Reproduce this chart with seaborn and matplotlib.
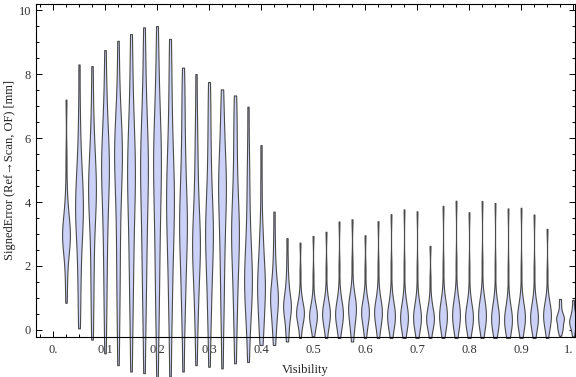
import numpy as np
import pandas as pd
import matplotlib
matplotlib.use("Agg")
import matplotlib.pyplot as plt
import seaborn as sns
from matplotlib.ticker import MultipleLocator, FixedLocator
from matplotlib.transforms import ScaledTranslation

# ── Data ───────────────────────────────────────────────────────
visibility = [0.025, 0.05, 0.075, 0.1, 0.125, 0.15, 0.175, 0.2, 0.225, 0.25,
              0.275, 0.3, 0.325, 0.35, 0.375, 0.4, 0.425, 0.45, 0.475, 0.5,
              0.525, 0.55, 0.575, 0.6, 0.625, 0.65, 0.675, 0.7, 0.725, 0.75,
              0.775, 0.8, 0.825, 0.85, 0.875, 0.9, 0.925, 0.95, 0.975, 1.0]

# representative signed-error samples per visibility bin [mm]
signed_error = [
    [0.85, 1.4, 1.9, 2.3, 2.5, 2.7, 2.8, 2.9, 3.0, 3.0, 3.1, 3.2, 3.4, 3.6, 3.9, 4.4, 5.4, 7.2],
    [0.05, 0.8, 1.5, 2.0, 2.5, 2.9, 3.2, 3.4, 3.6, 3.8, 4.0, 4.2, 4.4, 4.7, 5.0, 5.4, 6.0, 6.9, 8.3],
    [-0.3, 0.6, 1.3, 1.9, 2.5, 3.0, 3.4, 3.8, 4.0, 4.2, 4.4, 4.6, 4.8, 5.1, 5.4, 5.8, 6.3, 7.1, 8.25],
    [-0.73, 0.4, 1.1, 1.8, 2.4, 2.9, 3.4, 3.8, 4.2, 4.5, 4.8, 5.0, 5.2, 5.4, 5.7, 6.0, 6.4, 6.9, 7.6, 8.75],
    [-1.1, 0.1, 0.9, 1.6, 2.2, 2.8, 3.4, 3.9, 4.3, 4.7, 5.0, 5.3, 5.5, 5.7, 5.9, 6.2, 6.5, 7.0, 7.8, 9.04],
    [-1.3, 0.0, 0.8, 1.5, 2.1, 2.6, 3.1, 3.6, 4.0, 4.3, 4.6, 4.9, 5.2, 5.5, 5.8, 6.2, 6.7, 7.3, 8.2, 9.25],
    [-1.35, 0.0, 0.8, 1.5, 2.1, 2.6, 3.1, 3.6, 4.0, 4.4, 4.7, 5.0, 5.3, 5.6, 5.9, 6.3, 6.8, 7.4, 8.3, 9.46],
    [-1.5, -0.1, 0.7, 1.4, 2.0, 2.6, 3.1, 3.6, 4.0, 4.4, 4.8, 5.1, 5.4, 5.7, 6.0, 6.4, 6.9, 7.5, 8.3, 9.5],
    [-1.46, -0.1, 0.7, 1.3, 1.9, 2.4, 2.8, 3.2, 3.5, 3.8, 4.1, 4.4, 4.7, 5.0, 5.4, 5.9, 6.5, 7.2, 8.1, 9.1],
    [-1.3, 0.0, 0.7, 1.2, 1.7, 2.1, 2.5, 2.8, 3.1, 3.3, 3.5, 3.8, 4.1, 4.5, 4.9, 5.4, 6.0, 6.7, 7.4, 8.2],
    [-1.1, 0.0, 0.6, 1.1, 1.5, 1.9, 2.2, 2.4, 2.6, 2.8, 3.0, 3.3, 3.6, 4.0, 4.5, 5.1, 5.8, 6.6, 8.0],
    [-1.15, 0.0, 0.6, 1.1, 1.6, 2.0, 2.3, 2.6, 2.9, 3.1, 3.3, 3.6, 3.9, 4.3, 4.8, 5.4, 6.1, 6.9, 7.75],
    [-1.2, 0.1, 0.8, 1.4, 2.0, 2.5, 2.9, 3.3, 3.7, 4.0, 4.3, 4.5, 4.7, 5.0, 5.3, 5.7, 6.2, 6.8, 7.52],
    [-1.04, 0.0, 0.6, 1.1, 1.6, 2.0, 2.3, 2.6, 2.9, 3.1, 3.3, 3.6, 3.9, 4.3, 4.8, 5.4, 6.0, 6.7, 7.33],
    [-1.0, -0.1, 0.3, 0.7, 1.0, 1.2, 1.4, 1.6, 1.8, 2.0, 2.3, 2.6, 3.0, 3.5, 4.1, 4.8, 5.6, 6.98],
    [-0.47, -0.1, 0.2, 0.5, 0.8, 1.0, 1.2, 1.35, 1.5, 1.7, 1.9, 2.2, 2.5, 2.9, 3.4, 4.5, 5.78],
    [-0.47, -0.1, 0.2, 0.4, 0.6, 0.8, 0.9, 1.0, 1.1, 1.2, 1.4, 1.6, 1.9, 2.3, 2.9, 3.7],
    [-0.36, -0.1, 0.15, 0.35, 0.5, 0.6, 0.7, 0.75, 0.8, 0.9, 1.0, 1.2, 1.4, 1.7, 2.2, 2.87],
    [-0.25, 0.05, 0.2, 0.3, 0.4, 0.45, 0.5, 0.55, 0.6, 0.65, 0.7, 0.8, 0.95, 1.2, 1.8, 2.73],
    [-0.2, 0.0, 0.15, 0.25, 0.32, 0.38, 0.42, 0.46, 0.5, 0.56, 0.63, 0.72, 0.85, 1.1, 1.7, 2.94],
    [-0.25, 0.0, 0.15, 0.25, 0.35, 0.42, 0.47, 0.52, 0.57, 0.63, 0.7, 0.8, 0.95, 1.2, 1.9, 3.07],
    [-0.25, 0.0, 0.15, 0.25, 0.35, 0.42, 0.47, 0.52, 0.58, 0.64, 0.72, 0.82, 0.97, 1.25, 2.0, 3.39],
    [-0.36, -0.1, 0.1, 0.25, 0.4, 0.5, 0.6, 0.65, 0.7, 0.78, 0.86, 0.96, 1.1, 1.35, 2.1, 3.46],
    [-0.25, 0.0, 0.15, 0.28, 0.38, 0.46, 0.52, 0.56, 0.62, 0.68, 0.75, 0.85, 1.0, 1.25, 1.9, 2.96],
    [-0.25, 0.0, 0.15, 0.28, 0.38, 0.46, 0.52, 0.56, 0.62, 0.68, 0.75, 0.85, 1.0, 1.3, 2.0, 3.4],
    [-0.25, 0.0, 0.12, 0.22, 0.3, 0.37, 0.42, 0.47, 0.52, 0.58, 0.65, 0.75, 0.9, 1.2, 2.0, 3.62],
    [-0.25, -0.05, 0.1, 0.2, 0.28, 0.33, 0.37, 0.41, 0.46, 0.52, 0.6, 0.7, 0.85, 1.15, 2.0, 3.77],
    [-0.25, -0.05, 0.1, 0.2, 0.28, 0.33, 0.37, 0.41, 0.46, 0.52, 0.6, 0.7, 0.85, 1.1, 1.9, 3.71],
    [-0.25, -0.05, 0.08, 0.18, 0.25, 0.3, 0.34, 0.38, 0.43, 0.5, 0.58, 0.68, 0.82, 1.05, 1.6, 2.63],
    [-0.25, 0.0, 0.12, 0.22, 0.3, 0.37, 0.42, 0.47, 0.53, 0.6, 0.68, 0.78, 0.92, 1.2, 2.0, 3.88],
    [-0.25, 0.0, 0.12, 0.22, 0.31, 0.38, 0.44, 0.49, 0.55, 0.62, 0.7, 0.8, 0.95, 1.2, 2.1, 4.04],
    [-0.25, -0.05, 0.1, 0.2, 0.28, 0.33, 0.37, 0.41, 0.46, 0.52, 0.6, 0.7, 0.85, 1.1, 1.9, 3.68],
    [-0.25, 0.0, 0.12, 0.22, 0.31, 0.38, 0.44, 0.49, 0.55, 0.62, 0.7, 0.8, 0.95, 1.2, 2.1, 4.03],
    [-0.25, -0.05, 0.08, 0.18, 0.25, 0.3, 0.34, 0.38, 0.43, 0.5, 0.58, 0.68, 0.82, 1.1, 2.0, 3.97],
    [-0.25, -0.08, 0.05, 0.14, 0.21, 0.26, 0.3, 0.34, 0.39, 0.45, 0.53, 0.63, 0.78, 1.05, 1.9, 3.8],
    [-0.25, -0.05, 0.1, 0.2, 0.28, 0.33, 0.37, 0.41, 0.46, 0.52, 0.6, 0.7, 0.85, 1.1, 1.9, 3.82],
    [-0.25, -0.05, 0.1, 0.2, 0.28, 0.33, 0.37, 0.41, 0.46, 0.52, 0.6, 0.7, 0.85, 1.1, 1.9, 3.61],
    [-0.25, 0.0, 0.12, 0.22, 0.3, 0.37, 0.42, 0.47, 0.53, 0.6, 0.68, 0.76, 0.88, 1.1, 1.8, 3.16],
    [-0.18, -0.05, 0.05, 0.08, 0.12, 0.25, 0.3, 0.33, 0.36, 0.4, 0.45, 0.52, 0.62, 0.8, 0.97],
    [-0.2, -0.05, 0.05, 0.12, 0.18, 0.22, 0.26, 0.3, 0.35, 0.41, 0.48, 0.58, 0.72, 0.94],
]

x_ticks = [0.0, 0.1, 0.2, 0.3, 0.4, 0.5, 0.6, 0.7, 0.8, 0.9, 1.0]
x_ticklabels = ["0.", "0.1", "0.2", "0.3", "0.4", "0.5", "0.6", "0.7", "0.8", "0.9", "1."]
y_ticks = [0, 2, 4, 6, 8, 10]
y_ticklabels = ["0", "2", "4", "6", "8", "10"]

FILL = "#ccd2f7"
EDGE = "#4a4a4a"

# long format frame for seaborn
rows = [(v, e) for v, errs in zip(visibility, signed_error) for e in errs]
df = pd.DataFrame(rows, columns=["Visibility", "SignedError"])

sns.set_style("ticks")
plt.rcParams["font.family"] = ["Liberation Serif", "DejaVu Serif"]

fig = plt.figure(figsize=(5.76, 3.77), dpi=100)
ax = fig.add_axes([36 / 576, 40 / 377, 539 / 576, 333 / 377])

sns.violinplot(
    data=df, x="Visibility", y="SignedError", orient="x", native_scale=True,
    density_norm="width", cut=0, bw_adjust=0.6, inner=None, width=0.6,
    color=FILL, saturation=1, linecolor=EDGE, linewidth=0.8, ax=ax,
)
for coll in ax.collections:
    coll.set_clip_on(False)

ax.set_xlim(-0.0327, 1.0038)
ax.set_ylim(-0.22, 10.19)
ax.xaxis.set_major_locator(FixedLocator(x_ticks))
ax.set_xticklabels(x_ticklabels)
ax.xaxis.set_minor_locator(MultipleLocator(0.025))
ax.yaxis.set_major_locator(FixedLocator(y_ticks))
ax.set_yticklabels(y_ticklabels)
ax.yaxis.set_minor_locator(MultipleLocator(0.5))

ax.tick_params(which="both", direction="in", top=True, right=True,
               width=0.7, colors="black", labelcolor="#333333", labelsize=9)
ax.tick_params(which="major", length=4.5)
ax.tick_params(axis="x", which="major", pad=5)
ax.tick_params(which="minor", length=2.5)
for sp in ax.spines.values():
    sp.set_visible(True)
    sp.set_color("black")
    sp.set_linewidth(0.8)

# nudge the last x label inside the figure, as in the original
last = ax.get_xticklabels()[-1]
last.set_transform(last.get_transform() + ScaledTranslation(-0.04, 0, fig.dpi_scale_trans))

ax.set_xlabel("Visibility", fontsize=9, color="#222222", labelpad=6)
ax.set_ylabel("SignedError (Ref\u2192Scan, OF) [mm]", fontsize=9, color="#222222")
ax.yaxis.set_label_coords(-0.038, 0.5)

fig.savefig("out.png", dpi=100)
